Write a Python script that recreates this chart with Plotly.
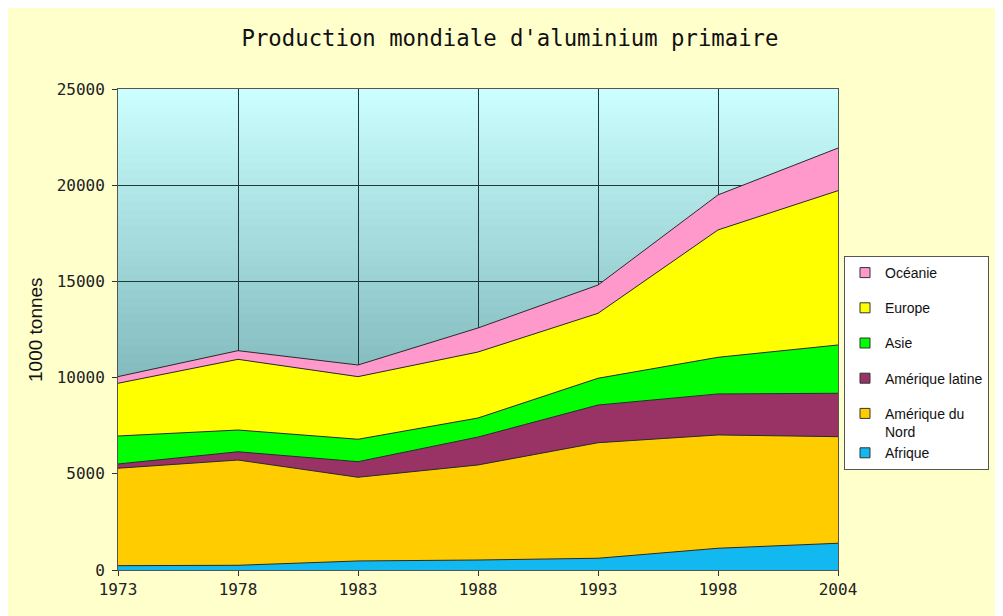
import plotly.graph_objects as go

years = ["1973", "1978", "1983", "1988", "1993", "1998", "2004"]
afrique = [225, 245, 470, 520, 610, 1130, 1390]
amerique_nord = [5065, 5470, 4350, 4940, 6005, 5890, 5540]
amerique_latine = [220, 430, 810, 1450, 1960, 2130, 2255]
asie = [1455, 1130, 1165, 990, 1390, 1905, 2510]
europe = [2740, 3675, 3255, 3430, 3375, 6620, 8020]
oceanie = [345, 450, 605, 1250, 1470, 1820, 2215]

series = [
    ("Afrique", afrique, "#12b8f0", "g2"),
    ("Amérique du<br>Nord", amerique_nord, "#ffcc00", "g2"),
    ("Amérique latine", amerique_latine, "#993366", "g3"),
    ("Asie", asie, "#00ff00", "g4"),
    ("Europe", europe, "#ffff00", "g5"),
    ("Océanie", oceanie, "#ff99cc", "g6"),
]

fig = go.Figure()
for name, vals, col, grp in series:
    fig.add_trace(go.Scatter(
        x=years, y=vals, name=name, stackgroup="one", mode="lines",
        line=dict(color="#2a2a2a", width=1), fillcolor=col,
        showlegend=False, legendgroup=grp, hoverinfo="x+y+name"))

# legend-only square markers (top series first)
for name, vals, col, grp in reversed(series):
    fig.add_trace(go.Scatter(
        x=[None], y=[None], name=name, mode="markers",
        marker=dict(symbol="square", size=10, color=col,
                    line=dict(color="#333333", width=1)),
        legendgroup=grp, showlegend=True))

# gradient plot background
N = 60
top = (204, 255, 255)
bot = (80, 140, 146)
shapes = []
for i in range(N):
    t = (i + 0.5) / N
    c = tuple(int(round(top[k] + (bot[k] - top[k]) * t)) for k in range(3))
    shapes.append(dict(type="rect", xref="x domain", yref="y domain",
                       x0=0, x1=1, y0=1 - (i + 1) / N - 0.002, y1=1 - i / N,
                       fillcolor="rgb(%d,%d,%d)" % c, line=dict(width=0),
                       layer="below"))

W, H = 995, 608
L, T, B = 110, 81, 46
PW = 720
PH = H - T - B

fig.update_layout(
    width=W, height=H,
    paper_bgcolor="#ffffcc",
    plot_bgcolor="#a8e0e4",
    margin=dict(l=L, r=W - L - PW, t=T, b=B),
    shapes=shapes,
    title=dict(text="Production mondiale d'aluminium primaire",
               x=(510 - 8) / W, xanchor="center", y=1 - (38 - 8) / H, yanchor="middle",
               font=dict(family="DejaVu Sans Mono", size=22.3, color="#111111")),
    legend=dict(x=(844 - 118) / PW, xanchor="left", y=1 - (256 - 89) / PH, yanchor="top",
                bgcolor="#ffffff", bordercolor="#555555", borderwidth=1,
                font=dict(family="Liberation Sans, Arial", size=14, color="#111111"),
                traceorder="grouped", tracegroupgap=14, valign="top"),
    annotations=[dict(text="1000 tonnes", textangle=-90, xref="paper", yref="paper",
                      x=(35 - 118) / PW, y=1 - (330 - 89) / PH,
                      xanchor="center", yanchor="middle", showarrow=False,
                      font=dict(family="Liberation Sans, Arial", size=19, color="#111111"))],
)

fig.update_xaxes(type="category", range=[0, 6], showgrid=True, gridcolor="#1e3a3c",
                 gridwidth=1, ticks="outside", ticklen=5, tickcolor="#333333",
                 showline=True, linecolor="#555555", mirror=True,
                 tickfont=dict(family="DejaVu Sans Mono", size=16, color="#222222"))
fig.update_yaxes(range=[0, 25000], dtick=5000, tickformat="d", showgrid=True,
                 gridcolor="#1e3a3c", gridwidth=1, ticks="outside", ticklen=5,
                 tickcolor="#333333", showline=True, linecolor="#555555", mirror=True,
                 zeroline=False, ticklabelstandoff=4,
                 tickfont=dict(family="DejaVu Sans Mono", size=16, color="#222222"))

fig.write_html("out.html")
